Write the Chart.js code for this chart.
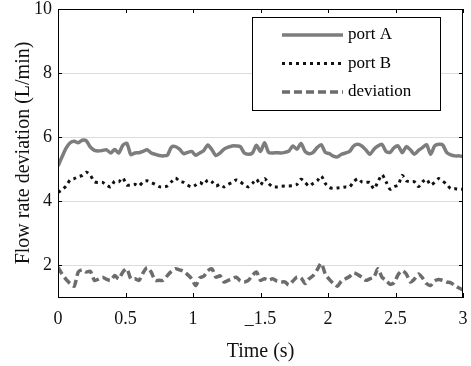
<!DOCTYPE html>
<html>
<head>
<meta charset="utf-8">
<script src="https://cdn.jsdelivr.net/npm/chart.js@4/dist/chart.umd.min.js"></script>
<style>
  html, body { margin: 0; padding: 0; background: #fff; }
  #wrap { width: 471px; height: 366px; }
</style>
</head>
<body>
<div id="wrap"><canvas id="flowChart" width="471" height="366"></canvas></div>
<script>
// time samples (s)
const times = [0, 0.03, 0.06, 0.09, 0.12, 0.15, 0.18, 0.21, 0.24, 0.27,
  0.3, 0.33, 0.36, 0.39, 0.42, 0.45, 0.48, 0.51, 0.54, 0.57,
  0.6, 0.63, 0.66, 0.69, 0.72, 0.75, 0.78, 0.81, 0.84, 0.87,
  0.9, 0.93, 0.96, 0.99, 1.02, 1.05, 1.08, 1.11, 1.14, 1.17,
  1.2, 1.23, 1.26, 1.29, 1.32, 1.35, 1.38, 1.41, 1.44, 1.47,
  1.5, 1.53, 1.56, 1.59, 1.62, 1.65, 1.68, 1.71, 1.74, 1.77,
  1.8, 1.83, 1.86, 1.89, 1.92, 1.95, 1.98, 2.01, 2.04, 2.07,
  2.1, 2.13, 2.16, 2.19, 2.22, 2.25, 2.28, 2.31, 2.34, 2.37,
  2.4, 2.43, 2.46, 2.49, 2.52, 2.55, 2.58, 2.61, 2.64, 2.67,
  2.7, 2.73, 2.76, 2.79, 2.82, 2.85, 2.88, 2.91, 2.94, 2.97, 3];

const portA = [5.09, 5.38, 5.65, 5.82, 5.87, 5.82, 5.9, 5.88, 5.68, 5.58,
  5.56, 5.58, 5.6, 5.5, 5.61, 5.5, 5.74, 5.8, 5.45, 5.5,
  5.51, 5.55, 5.6, 5.5, 5.46, 5.42, 5.41, 5.43, 5.68, 5.7,
  5.62, 5.48, 5.52, 5.55, 5.43, 5.5, 5.58, 5.75, 5.6, 5.42,
  5.5, 5.62, 5.68, 5.72, 5.72, 5.7, 5.5, 5.46, 5.5, 5.74,
  5.55, 5.82, 5.52, 5.5, 5.51, 5.5, 5.52, 5.56, 5.72, 5.62,
  5.8, 5.55, 5.48, 5.52, 5.67, 5.76, 5.52, 5.48, 5.4, 5.38,
  5.46, 5.5, 5.55, 5.72, 5.77, 5.72, 5.6, 5.46, 5.62, 5.72,
  5.77, 5.55, 5.52, 5.67, 5.72, 5.51, 5.7, 5.6, 5.46, 5.58,
  5.67, 5.76, 5.46, 5.72, 5.77, 5.75, 5.51, 5.44, 5.41, 5.41, 5.39];

const portB = [4.27, 4.35, 4.47, 4.66, 4.7, 4.76, 4.8, 4.9, 4.8, 4.6,
  4.58, 4.58, 4.5, 4.44, 4.62, 4.6, 4.72, 4.5, 4.5, 4.52,
  4.47, 4.6, 4.63, 4.58, 4.52, 4.45, 4.44, 4.47, 4.6, 4.72,
  4.62, 4.58, 4.5, 4.44, 4.5, 4.58, 4.52, 4.66, 4.6, 4.47,
  4.52, 4.44, 4.52, 4.58, 4.66, 4.6, 4.5, 4.44, 4.55, 4.68,
  4.5, 4.7, 4.55, 4.44, 4.44, 4.46, 4.47, 4.47, 4.48, 4.52,
  4.68, 4.58, 4.47, 4.55, 4.63, 4.78, 4.55, 4.42, 4.4, 4.41,
  4.42, 4.44, 4.44, 4.6, 4.7, 4.6, 4.58, 4.58, 4.38, 4.6,
  4.82, 4.6, 4.37, 4.45, 4.5, 4.8, 4.63, 4.6, 4.6, 4.45,
  4.6, 4.68, 4.5, 4.58, 4.7, 4.62, 4.52, 4.38, 4.38, 4.37, 4.37];

const deviation = [1.93, 1.72, 1.55, 1.42, 1.34, 1.78, 1.85, 1.78, 1.8, 1.52,
  1.56, 1.62, 1.55, 1.52, 1.67, 1.57, 1.78, 1.88, 1.57, 1.57,
  1.52, 1.75, 1.92, 1.78, 1.52, 1.52, 1.52, 1.67, 1.8, 1.88,
  1.85, 1.8, 1.7, 1.57, 1.36, 1.6, 1.65, 1.82, 1.88, 1.62,
  1.66, 1.47, 1.52, 1.57, 1.62, 1.5, 1.47, 1.52, 1.67, 1.78,
  1.52, 1.57, 1.52, 1.57, 1.5, 1.47, 1.47, 1.38, 1.5, 1.62,
  1.6, 1.42, 1.57, 1.67, 1.85, 2.05, 1.72, 1.55, 1.42, 1.34,
  1.5, 1.57, 1.64, 1.75, 1.7, 1.62, 1.52, 1.57, 1.62, 1.88,
  1.62, 1.52, 1.4, 1.45, 1.7, 1.82, 1.72, 1.47, 1.56, 1.72,
  1.6, 1.42, 1.36, 1.5, 1.55, 1.52, 1.47, 1.44, 1.36, 1.28, 1.22];

const seriesNames = ['port A', 'port B', 'deviation'];
const xTicks = [0, 0.5, 1, 1.5, 2, 2.5, 3];
const xTickLabels = ['0', '0.5', '1', '_1.5', '2', '2.5', '3'];
const yTicks = [2, 4, 6, 8, 10];

const serif = "'Liberation Serif', 'DejaVu Serif', serif";

function pts(values) {
    return values.map((v, i) => ({ x: times[i], y: v }));
}

// 坐标框、内向刻度和图例
const boxPlugin = {
    id: 'boxPlugin',
    afterDraw(chart) {
        const ctx = chart.ctx;
        const a = chart.chartArea;
        const xs = chart.scales.x, ys = chart.scales.y;
        ctx.save();
        ctx.strokeStyle = '#000';
        ctx.lineWidth = 1;
        ctx.strokeRect(a.left + 0.5, a.top + 0.5, a.right - a.left - 1, a.bottom - a.top);
        ctx.beginPath();
        xTicks.forEach(t => {
            const px = Math.round(xs.getPixelForValue(t)) + 0.5;
            ctx.moveTo(px, a.bottom); ctx.lineTo(px, a.bottom - 4);
            ctx.moveTo(px, a.top); ctx.lineTo(px, a.top + 4);
        });
        yTicks.forEach(v => {
            const py = Math.round(ys.getPixelForValue(v)) + 0.5;
            ctx.moveTo(a.left, py); ctx.lineTo(a.left + 4, py);
            ctx.moveTo(a.right, py); ctx.lineTo(a.right - 4, py);
        });
        ctx.stroke();

        // legend
        const lx = 252, ly = 17, lw = 188, lh = 93;
        ctx.fillStyle = '#fff';
        ctx.fillRect(lx, ly, lw, lh);
        ctx.strokeStyle = '#000';
        ctx.lineWidth = 1;
        ctx.strokeRect(lx + 0.5, ly + 0.5, lw, lh);
        ctx.font = '17px ' + serif;
        ctx.textBaseline = 'middle';
        chart.data.datasets.forEach((ds, i) => {
            const y = 35 + i * 28.5;
            ctx.beginPath();
            ctx.strokeStyle = ds.borderColor;
            ctx.lineWidth = ds.borderWidth;
            ctx.setLineDash(ds.borderDash || []);
            ctx.moveTo(282, y); ctx.lineTo(343, y);
            ctx.stroke();
            ctx.setLineDash([]);
            ctx.fillStyle = '#000';
            ctx.fillText(ds.label, 348, y);
        });
        ctx.restore();
    }
};

const chart = new Chart(document.getElementById('flowChart'), {
    type: 'line',
    data: {
        datasets: [{
            label: seriesNames[0],
            data: pts(portA),
            borderColor: '#7d7d7d',
            borderWidth: 3.5,
            pointRadius: 0,
            tension: 0.25
        }, {
            label: seriesNames[1],
            data: pts(portB),
            borderColor: '#111',
            borderWidth: 3,
            borderDash: [3, 4],
            pointRadius: 0,
            tension: 0.25
        }, {
            label: seriesNames[2],
            data: pts(deviation),
            borderColor: '#6c6c6c',
            borderWidth: 3.5,
            borderDash: [8, 4],
            pointRadius: 0,
            tension: 0.25
        }]
    },
    options: {
        responsive: false,
        animation: false,
        layout: { padding: 0 },
        plugins: {
            legend: { display: false },
            tooltip: { enabled: false }
        },
        scales: {
            x: {
                type: 'linear',
                min: 0,
                max: 3,
                afterBuildTicks: s => { s.ticks = xTicks.map(v => ({ value: v })); },
                afterFit: s => { s.height = 69; s.paddingLeft = 0; s.paddingRight = 8; },
                grid: { display: false },
                border: { display: true, color: '#000' },
                ticks: {
                    color: '#111',
                    padding: 3,
                    maxRotation: 0,
                    font: { family: serif, size: 18 },
                    callback: v => xTickLabels[xTicks.indexOf(v)]
                },
                title: {
                    display: true,
                    text: 'Time (s)',
                    color: '#111',
                    font: { family: serif, size: 20 },
                    padding: { top: 0, bottom: 2 }
                }
            },
            y: {
                min: 1,
                max: 10,
                afterBuildTicks: s => { s.ticks = yTicks.map(v => ({ value: v })); },
                afterFit: s => { s.width = 58; s.paddingTop = 9; s.paddingBottom = 0; },
                grid: { color: '#dcdcdc', lineWidth: 1, drawTicks: false },
                border: { display: true, color: '#000' },
                ticks: {
                    color: '#111',
                    padding: 6,
                    font: { family: serif, size: 18 }
                },
                title: {
                    display: true,
                    text: 'Flow rate deviation (L/min)',
                    color: '#111',
                    font: { family: serif, size: 20 },
                    padding: { top: 12, bottom: 0 }
                }
            }
        }
    },
    plugins: [boxPlugin]
});
</script>
</body>
</html>
